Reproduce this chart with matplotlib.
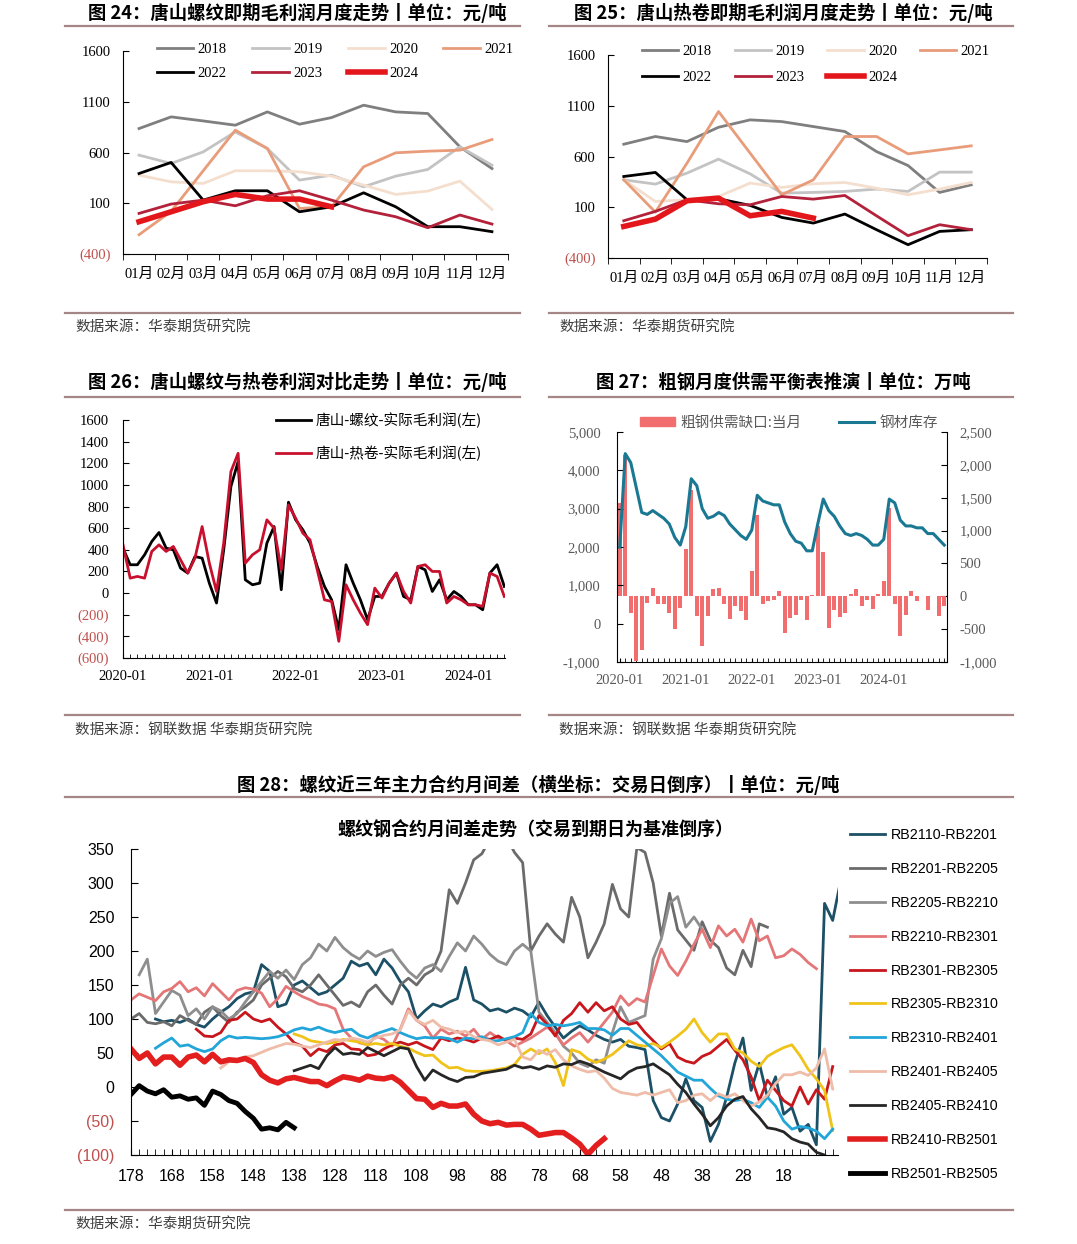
import numpy as np
import matplotlib
matplotlib.use('Agg')
import matplotlib.pyplot as plt
from matplotlib.lines import Line2D
from matplotlib.patches import Patch

W, H = 1077, 1244
CJK = ['Noto Sans CJK SC', 'DejaVu Sans']
SERIF = ['Liberation Serif', 'Noto Sans CJK SC']
SANS = ['Liberation Sans', 'Noto Sans CJK SC']
NEG = '#c0504d'
RULE = '#a48686'

plt.rcParams['font.family'] = SANS
plt.rcParams['axes.unicode_minus'] = False

# ---------------- 图24 / 图25: 唐山即期毛利润 (元/吨) ----------------
months = ['01月', '02月', '03月', '04月', '05月', '06月', '07月', '08月', '09月', '10月', '11月', '12月']
years = ['2018', '2019', '2020', '2021', '2022', '2023', '2024']

rebar_2018 = [836, 951, 911, 869, 1000, 879, 944, 1066, 1000, 984, 656, 442]
rebar_2019 = [574, 492, 606, 803, 639, 328, 377, 262, 367, 433, 656, 475]
rebar_2020 = [377, 311, 295, 420, 420, 410, 367, 279, 187, 220, 318, 39]
rebar_2021 = [-210, 20, 420, 820, 639, 49, 65, 459, 597, 613, 623, 728]
rebar_2022 = [393, 502, 131, 223, 223, 16, 65, 203, 65, -131, -131, -180]
rebar_2023 = [0, 92, 131, 75, 174, 223, 131, 33, -33, -141, -16, -105]
rebar_2024 = [-82, 16, 115, 187, 141, 141, 65]

hrc_2018 = [721, 797, 747, 888, 961, 944, 895, 846, 649, 511, 246, 321]
hrc_2019 = [370, 328, 436, 574, 429, 239, 246, 256, 279, 256, 446, 446]
hrc_2020 = [370, 157, 174, 206, 338, 295, 331, 344, 288, 223, 279, 344]
hrc_2021 = [370, 52, 534, 1043, 633, 223, 370, 797, 797, 626, 665, 705]
hrc_2022 = [403, 443, 174, 184, 118, 0, -56, 33, -121, -269, -138, -121]
hrc_2023 = [-33, 59, 174, 134, 124, 206, 180, 216, 16, -180, -72, -121]
hrc_2024 = [-89, -17, 164, 190, 16, 59, -7]

# ---------------- 图26: 螺纹与热卷实际毛利润 2020-01 .. 2024-06 ----------------
profit_years = ['2020-01', '2021-01', '2022-01', '2023-01', '2024-01']
rebar_profit = [415, 262, 262, 354, 477, 560, 415, 400, 231, 185, 338, 323,
                92, -92, 400, 985, 1215, 123, 77, 92, 462, 615, 31, 840,
                677, 585, 462, 246, 62, -62, -338, 262, 92, -62, -246, -31,
                -31, 92, 185, -31, -62, 246, 215, 15, 123, -62, 15, -31,
                -108, -108, -154, 185, 262, 62]
hrc_profit = [446, 138, 154, 138, 385, 446, 385, 431, 308, 185, 323, 615,
              277, 15, 462, 1123, 1292, 277, 354, 400, 677, 600, 215, 815,
              692, 554, 492, 215, -62, -77, -446, 77, -62, -185, -292, 46,
              -46, 92, 185, 15, -92, 246, 262, 200, 200, -92, -31, -62,
              -108, -108, -123, 185, 154, -31]

# ---------------- 图27: 粗钢供需缺口 / 钢材库存 2020-01 .. 2024-12 ----------------
stock_years = ['2020-01', '2021-01', '2022-01', '2023-01', '2024-01']
steel_stock = [2000, 4436, 4200, 3550, 2900, 2850, 2950, 2850, 2750, 2600, 2250, 2050,
               2530, 3780, 3600, 3000, 2750, 2800, 2900, 2820, 2600, 2450, 2300, 2200,
               2440, 3350, 3200, 3150, 3100, 3100, 2650, 2350, 2150, 2100, 1900, 1900,
               2600, 3250, 2950, 2800, 2550, 2350, 2300, 2350, 2300, 2200, 2050, 2050,
               2200, 3250, 3150, 2700, 2550, 2550, 2500, 2500, 2350, 2350, 2200, 2050]
supply_gap = [1413, 2146, -253, -990, -810, -100, 125, -125, -125, -250, -500, -175,
              723, 1615, -300, -750, -300, 110, 125, -125, -340, -150, -230, -360,
              380, 1235, -125, -75, -50, 75, -560, -325, -280, -50, -360, 15,
              1070, 680, -480, -210, -320, -250, 35, 110, -150, -50, -200, 40,
              230, 1340, -125, -610, -280, 75, -75, 10, -210, 10, -300, -150]

# ---------------- 图28: 螺纹合约月间差 (交易日倒序, 每2日取值) ----------------
spread_labels = ['RB2110-RB2201', 'RB2201-RB2205', 'RB2205-RB2210', 'RB2210-RB2301',
                 'RB2301-RB2305', 'RB2305-RB2310', 'RB2310-RB2401', 'RB2401-RB2405',
                 'RB2405-RB2410', 'RB2410-RB2501', 'RB2501-RB2505']
spread_start = [172, 178, 176, 178, 162, 138, 172, 156, 138, 178, 178]

rb2110_2201 = [100, 96, 98, 95, 100, 92, 88, 100, 110, 118,
               130, 137, 140, 180, 170, 118, 122, 150, 156, 146,
               136, 140, 150, 160, 185, 178, 182, 165, 188, 175,
               155, 140, 100, 112, 122, 118, 125, 130, 176, 128,
               122, 112, 115, 110, 116, 112, 103, 125, 105, 88,
               72, 82, 90, 84, 76, 70, 66, 70, 60, 58,
               55, -20, -45, -50, -25, 12, -20, -30, -80, -55,
               -15, 35, 72, -5, 35, -15, 15, -40, -30, -65,
               -55, -85, 270, 245, 305]
rb2201_2205 = [100, 108, 95, 93, 96, 90, 105, 98, 92, 110,
               118, 105, 95, 110, 118, 128, 150, 160, 170, 162,
               145, 140, 150, 165, 150, 135, 120, 125, 118, 140,
               150, 135, 122, 150, 160, 150, 165, 172, 200, 290,
               270, 300, 334, 343, 365, 372, 368, 345, 330, 200,
               222, 240, 225, 213, 279, 250, 190, 213, 240, 298,
               262, 250, 352, 345, 300, 222, 285, 231, 216, 201,
               243, 216, 205, 175, 165, 201, 177, 240, 235]
rb2205_2210 = [165, 188, 108, 125, 142, 135, 105, 115, 100, 118,
               112, 100, 108, 125, 140, 155, 170, 160, 172, 158,
               180, 190, 210, 200, 220, 205, 195, 188, 200, 192,
               198, 202, 185, 170, 160, 175, 180, 170, 192, 212,
               200, 222, 210, 195, 185, 180, 200, 210, 200, 110,
               95, 80, 60, 50, 35, 30, 40, 35, 80, 118,
               95, 100, 105, 188, 218, 270, 280, 235, 250, 232]
rb2210_2301 = [128, 137, 132, 127, 140, 145, 155, 140, 146, 134,
               152, 140, 128, 142, 146, 144, 138, 118, 130, 148,
               140, 133, 128, 122, 120, 115, 85, 72, 65, 62,
               75, 70, 60, 85, 115, 98, 90, 72, 85, 78,
               82, 75, 85, 70, 80, 72, 68, 60, 66, 72,
               80, 88, 78, 62, 72, 80, 66, 80, 95, 110,
               134, 120, 130, 125, 164, 203, 178, 164, 185, 210,
               232, 205, 237, 222, 232, 213, 247, 215, 222, 190,
               193, 203, 195, 183, 174]
rb2301_2305 = [85, 75, 74, 80, 98, 100, 110, 100, 96, 100,
               88, 78, 65, 60, 46, 56, 52, 62, 64, 56,
               55, 46, 48, 56, 62, 66, 62, 66, 60, 55,
               72, 68, 72, 70, 66, 72, 70, 75, 68, 72,
               70, 78, 105, 92, 75, 98, 108, 124, 110, 124,
               112, 118, 100, 92, 95, 80, 68, 56, 64, 44,
               38, 35, 45, 50, 60, 70, 54, 40, 15, -20,
               10, -5, -20, -28, 0, -25, -4, -18, 30]
rb2305_2310 = [78, 74, 68, 66, 64, 66, 70, 68, 66, 62,
               64, 62, 64, 60, 57, 51, 46, 47, 36, 28,
               29, 24, 23, 23, 24, 26, 28, 33, 48, 56,
               49, 56, 36, 2, 55, 51, 41, 36, 41, 48,
               58, 68, 62, 60, 64, 58, 66, 75, 85, 100,
               80, 66, 78, 78, 56, 50, 38, 30, 45, 52,
               58, 62, 46, 26, 12, -5, -64]
rb2310_2401 = [57, 65, 72, 60, 62, 56, 52, 56, 68, 75,
               72, 73, 72, 71, 72, 74, 78, 84, 87, 84,
               88, 83, 80, 83, 85, 76, 72, 78, 82, 86,
               80, 75, 71, 73, 72, 73, 71, 66, 72, 71,
               74, 68, 68, 71, 74, 80, 108, 95, 90, 92,
               90, 92, 95, 86, 86, 84, 76, 86, 86, 76,
               66, 56, 46, 34, 22, 16, 10, 10, -2, -13,
               -18, -20, -18, -23, -30, -15, -28, -50, -62, -58,
               -60, -65, -76, -62]
rb2401_2405 = [28, 37, 40, 44, 46, 51, 56, 60, 64, 63,
               60, 58, 62, 66, 70, 68, 72, 70, 66, 72,
               76, 78, 84, 112, 98, 92, 98, 88, 85, 80,
               82, 74, 70, 68, 62, 66, 70, 44, 40, 54,
               48, 55, 40, 31, 26, 22, 24, 13, -2, -8,
               -10, -12, -8, -12, -8, -4, -23, -20, -12, -10,
               -20, -10, -15, -10, -20, -28, -22, -12, 5, 18,
               18, 22, 17, 28, 56, -3]
rb2405_2410 = [24, 28, 32, 27, 46, 58, 48, 50, 48, 58,
               52, 46, 52, 58, 56, 30, 10, 25, 18, 12,
               8, 14, 15, 20, 22, 24, 26, 32, 28, 30,
               26, 31, 29, 34, 33, 38, 34, 28, 22, 17,
               12, 22, 28, 30, 34, 26, 18, 4, -8, -25,
               -40, -57, -45, -28, -18, -14, -32, -45, -60, -62,
               -66, -76, -81, -84, -96, -100]
rb2410_2501 = [56, 42, 50, 34, 44, 44, 32, 44, 47, 37,
               48, 37, 40, 39, 42, 36, 18, 10, 6, 12,
               14, 11, 8, 8, 2, 9, 15, 13, 10, 16,
               13, 12, 15, 7, -5, -17, -18, -30, -24, -28,
               -28, -25, -40, -50, -54, -52, -56, -55, -55, -62,
               -71, -69, -67, -67, -75, -84, -99, -86, -76]
rb2501_2505 = [-11, 2, -6, -10, -4, -15, -13, -18, -16, -27,
               -6, -11, -20, -24, -36, -46, -62, -60, -63, -52, -60]

spreads = [rb2110_2201, rb2201_2205, rb2205_2210, rb2210_2301, rb2301_2305, rb2305_2310,
           rb2310_2401, rb2401_2405, rb2405_2410, rb2410_2501, rb2501_2505]

# ---------------- styles ----------------
year_colors = ['#7f7f7f', '#c3c3c3', '#f4dfcf', '#e89c7a', '#000000', '#b3213a', '#e3161b']
year_widths = [2.0, 2.0, 2.0, 2.0, 2.0, 2.0, 4.0]
spread_colors = ['#1c5066', '#6b6b6b', '#8e8e8e', '#e57678', '#c8161d', '#f0c31a',
                 '#22a5d8', '#eebca8', '#262626', '#e31e1e', '#000000']
spread_widths = [2.0, 2.0, 2.0, 2.0, 2.0, 2.0, 2.0, 2.0, 2.0, 4.0, 3.5]

fig = plt.figure(figsize=(W / 100, H / 100), dpi=100)


def px_axes(l, t, r, b):
    return fig.add_axes([l / W, 1 - b / H, (r - l) / W, (b - t) / H])


def rule(y, x0, x1):
    fig.add_artist(Line2D([x0 / W, x1 / W], [1 - y / H, 1 - y / H], color=RULE, lw=1.6))


def ftext(x, y, s, **kw):
    fig.text(x / W, 1 - y / H, s, **kw)


def paren_ticks(ax, ticks, font, size, color='black'):
    ax.set_yticks(ticks)
    labels = ['(%d)' % abs(t) if t < 0 else '%d' % t for t in ticks]
    texts = ax.set_yticklabels(labels, family=font, fontsize=size)
    for t, lb in zip(ticks, texts):
        lb.set_color(NEG if t < 0 else color)


def panel_frame(title, cx, x0, x1, y_title, y_rule, y_src_rule, y_src, src):
    ftext(cx, y_title, title, family=CJK, fontsize=13.2, fontweight='bold', ha='center', va='center')
    rule(y_rule, x0, x1)
    rule(y_src_rule, x0, x1)
    ftext(x0 + 10, y_src, src, family=CJK, fontsize=10.5, color='#404040', va='center')


def month_panel(ax, series, legend_x, legend_y, colspace, rowspace):
    x = np.arange(12)
    for i, vals in enumerate(series):
        ax.plot(x[:len(vals)], vals, color=year_colors[i], lw=year_widths[i], label=years[i])
    ax.set_xlim(-0.5, 11.5)
    ax.set_ylim(-400, 1600)
    ax.spines['top'].set_visible(False)
    ax.spines['right'].set_visible(False)
    ax.set_xticks(x)
    ax.set_xticklabels(months, family=SERIF, fontsize=10.5)
    ax.set_xticks(np.arange(-0.5, 12, 1), minor=True)
    ax.tick_params(axis='x', which='major', length=0, pad=10)
    ax.tick_params(axis='x', which='minor', length=4, direction='out')
    ax.tick_params(axis='y', length=4, direction='in', pad=9)
    paren_ticks(ax, [-400, 100, 600, 1100, 1600], SERIF, 10.5)
    h, l = ax.get_legend_handles_labels()
    order = [0, 4, 1, 5, 2, 6, 3]
    ax.legend([h[i] for i in order], [l[i] for i in order], ncol=4, loc='upper left',
              bbox_to_anchor=(legend_x / W, 1 - legend_y / H), bbox_transform=fig.transFigure,
              frameon=False, borderpad=0, borderaxespad=0, handlelength=2.5, handletextpad=0.3,
              columnspacing=colspace, labelspacing=rowspace, prop={'family': SERIF, 'size': 10.5})


# ---- 图24 ----
panel_frame('图 24：唐山螺纹即期毛利润月度走势丨单位：元/吨', 297, 65, 520, 13, 26, 313, 327,
            '数据来源：华泰期货研究院')
ax24 = px_axes(123, 51, 508, 254)
month_panel(ax24, [rebar_2018, rebar_2019, rebar_2020, rebar_2021, rebar_2022, rebar_2023, rebar_2024],
            157, 43, 1.75, 0.75)

# ---- 图25 ----
panel_frame('图 25：唐山热卷即期毛利润月度走势丨单位：元/吨', 783, 549, 1013, 13, 26, 313, 327,
            '数据来源：华泰期货研究院')
ax25 = px_axes(608, 55, 987, 258)
month_panel(ax25, [hrc_2018, hrc_2019, hrc_2020, hrc_2021, hrc_2022, hrc_2023, hrc_2024],
            642, 45, 1.55, 0.85)

# ---- 图26 ----
panel_frame('图 26：唐山螺纹与热卷利润对比走势丨单位：元/吨', 297, 65, 520, 382, 397, 715, 730,
            '数据来源：钢联数据 华泰期货研究院')
ax26 = px_axes(123, 420, 505, 658)
m = np.arange(len(rebar_profit))
ax26.plot(m, rebar_profit, color='black', lw=2, label='唐山-螺纹-实际毛利润(左)')
ax26.plot(m, hrc_profit, color='#c8102e', lw=2, label='唐山-热卷-实际毛利润(左)')
ax26.set_xlim(0, 53.1)
ax26.set_ylim(-600, 1600)
ax26.spines['top'].set_visible(False)
ax26.spines['right'].set_visible(False)
ax26.set_xticks(np.arange(0, 54, 12))
ax26.set_xticklabels(profit_years, family=SERIF, fontsize=10.5)
ax26.set_xticks(np.arange(0, 54, 1), minor=True)
ax26.tick_params(axis='x', which='both', direction='in', length=3, pad=9)
ax26.tick_params(axis='y', direction='in', length=4, pad=10)
paren_ticks(ax26, list(range(-600, 1601, 200)), SERIF, 10.5)
ax26.legend(loc='upper left', bbox_to_anchor=(276 / W, 1 - 413 / H), bbox_transform=fig.transFigure,
            frameon=False, borderpad=0, borderaxespad=0, handlelength=2.4, handletextpad=0.3,
            labelspacing=1.15, prop={'family': CJK, 'size': 10.5})

# ---- 图27 ----
panel_frame('图 27：粗钢月度供需平衡表推演丨单位：万吨', 783, 549, 1013, 382, 397, 715, 730,
            '数据来源：钢联数据 华泰期货研究院')
axb = px_axes(617, 432, 947, 662)
axl = axb.twinx()
k = np.arange(len(supply_gap))
axb.bar(k, supply_gap, width=0.72, color='#f26d6d', zorder=2)
axb.set_xlim(-0.5, 59.5)
axb.set_ylim(-1000, 2500)
axb.yaxis.tick_right()
axb.set_yticks(range(-1000, 2501, 500))
axb.set_yticklabels(['{:,}'.format(v) for v in range(-1000, 2501, 500)], family=SERIF, fontsize=10.5,
                    color='#595959')
axb.tick_params(axis='y', direction='in', length=4, pad=9)
axb.set_xticks(np.arange(0, 60, 12))
axb.set_xticklabels(stock_years, family=SERIF, fontsize=10.5, color='#595959')
axb.set_xticks(np.arange(0, 60, 1), minor=True)
axb.tick_params(axis='x', which='both', direction='in', length=3, pad=9)
for s in ['top', 'left']:
    axb.spines[s].set_visible(False)

axl.plot(k, steel_stock, color='#1b7893', lw=2.2, zorder=3)
axl.set_ylim(-1000, 5000)
axl.yaxis.tick_left()
axl.set_yticks(range(-1000, 5001, 1000))
axl.set_yticklabels(['{:,}'.format(v) for v in range(-1000, 5001, 1000)], family=SERIF, fontsize=10.5,
                    color='#595959')
axl.tick_params(axis='y', direction='in', length=4, pad=12)
for s in ['top', 'right', 'bottom']:
    axl.spines[s].set_visible(False)
axl.spines['left'].set_visible(True)
h27 = [Patch(color='#f26d6d'), Line2D([], [], color='#1b7893', lw=2.2)]
axl.legend(h27, ['粗钢供需缺口:当月', '钢材库存'], ncol=2, loc='upper left',
           bbox_to_anchor=(640 / W, 1 - 416 / H), bbox_transform=fig.transFigure, frameon=False,
           borderpad=0, borderaxespad=0, handlelength=2.4, handleheight=0.6, handletextpad=0.35,
           columnspacing=2.6, prop={'family': CJK, 'size': 10.5}, labelcolor='#595959')

# ---- 图28 ----
ftext(538, 785, '图 28：螺纹近三年主力合约月间差（横坐标：交易日倒序）丨单位：元/吨', family=CJK,
      fontsize=13.2, fontweight='bold', ha='center', va='center')
rule(797, 65, 1013)
rule(1210, 65, 1013)
ftext(75, 1224, '数据来源：华泰期货研究院', family=CJK, fontsize=10.5, color='#404040', va='center')
ftext(535, 830, '螺纹钢合约月间差走势（交易到期日为基准倒序）', family=CJK, fontsize=13,
      fontweight='bold', ha='center', va='center')
ax28 = px_axes(131, 849, 838, 1155)
for i, vals in enumerate(spreads):
    days = spread_start[i] - 2 * np.arange(len(vals))
    ax28.plot(days, vals, color=spread_colors[i], lw=spread_widths[i], label=spread_labels[i])
ax28.set_xlim(178, 4.7)
ax28.set_ylim(-100, 350)
ax28.spines['top'].set_visible(False)
ax28.spines['right'].set_visible(False)
ax28.set_xticks(np.arange(178, 10, -10))
ax28.set_xticklabels([str(v) for v in np.arange(178, 10, -10)], fontsize=11.5)
ax28.set_xticks(np.arange(178, 4, -2), minor=True)
ax28.tick_params(axis='x', which='both', direction='in', length=4, pad=10)
ax28.tick_params(axis='y', direction='in', length=5, pad=12)
paren_ticks(ax28, list(range(-100, 351, 50)), SANS, 11.5)
ax28.legend(loc='upper left', bbox_to_anchor=(850 / W, 1 - 828 / H), bbox_transform=fig.transFigure,
            frameon=False, borderpad=0, borderaxespad=0, handlelength=2.45, handletextpad=0.4,
            labelspacing=1.39, prop={'family': SANS, 'size': 10.3})

fig.savefig('out.png', dpi=100)
